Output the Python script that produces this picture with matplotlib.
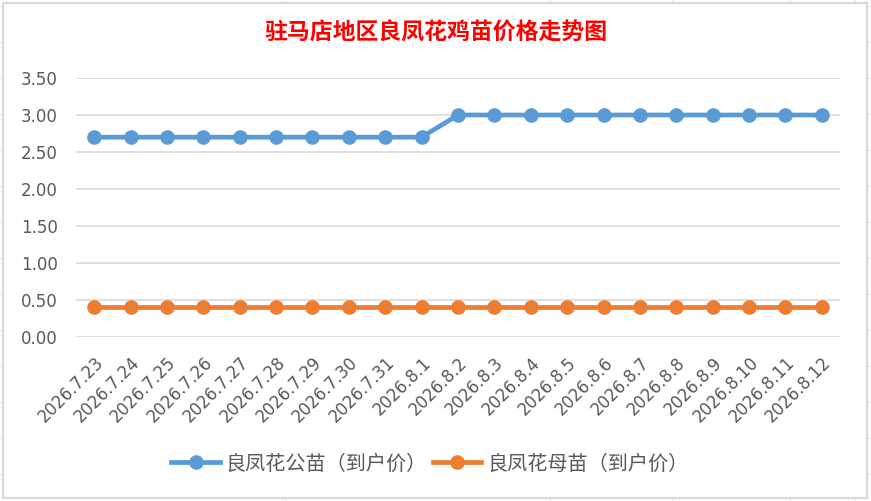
import matplotlib
matplotlib.use("Agg")
import matplotlib.pyplot as plt
from matplotlib.patches import Rectangle
from matplotlib.lines import Line2D

plt.rcParams['font.family'] = ['Noto Sans CJK SC', 'DejaVu Sans']

dates = ["2026.7.23", "2026.7.24", "2026.7.25", "2026.7.26", "2026.7.27",
         "2026.7.28", "2026.7.29", "2026.7.30", "2026.7.31", "2026.8.1",
         "2026.8.2", "2026.8.3", "2026.8.4", "2026.8.5", "2026.8.6",
         "2026.8.7", "2026.8.8", "2026.8.9", "2026.8.10", "2026.8.11",
         "2026.8.12"]
male_price = [2.7, 2.7, 2.7, 2.7, 2.7, 2.7, 2.7, 2.7, 2.7, 2.7,
              3.0, 3.0, 3.0, 3.0, 3.0, 3.0, 3.0, 3.0, 3.0, 3.0, 3.0]
female_price = [0.4] * 21
yticks = [0.0, 0.5, 1.0, 1.5, 2.0, 2.5, 3.0, 3.5]
title = "驻马店地区良凤花鸡苗价格走势图"
labels = ["良凤花公苗（到户价）", "良凤花母苗（到户价）"]

W, H = 871, 501
fig = plt.figure(figsize=(W / 100, H / 100), dpi=100)

# faint spreadsheet cells behind the chart
for y in range(6, H, 36):
    fig.add_artist(Line2D([0, 1], [1 - y / H, 1 - y / H], color="#e6e6e6", lw=0.7, zorder=0))
for x in [284.5, 550, 672, 790, 855]:
    fig.add_artist(Line2D([x / W, x / W], [0, 1], color="#e6e6e6", lw=0.7, zorder=0))
fig.add_artist(Rectangle((3 / W, 3 / H), 864 / W, 495 / H, facecolor="white",
                         edgecolor="#d9d9d9", lw=1.6, zorder=1))

ax = fig.add_axes([76 / W, 1 - 337 / H, 764 / W, 259 / H], zorder=2)
ax.patch.set_alpha(0)
x = list(range(len(dates)))
ax.plot(x, male_price, color="#5b9bd5", lw=3.4, marker="o", ms=9.5, label=labels[0], zorder=3)
ax.plot(x, female_price, color="#ed7d31", lw=3.4, marker="o", ms=9.5, label=labels[1], zorder=3)

ax.set_xlim(-0.5, len(dates) - 0.5)
ax.set_ylim(0, 3.5)
ax.set_yticks(yticks)
ax.set_yticklabels([f"{v:.2f}" for v in yticks], fontsize=12, color="#595959",
                   family="DejaVu Sans")
ax.set_xticks(x)
ax.set_xticklabels(dates, rotation=45, ha="right", rotation_mode="anchor",
                   fontsize=12, color="#595959", family="DejaVu Sans")
ax.tick_params(axis="both", length=0)
ax.tick_params(axis="x", pad=12)
ax.tick_params(axis="y", pad=13)
ax.grid(axis="y", color="#d9d9d9", lw=1.2)
ax.set_axisbelow(True)
for s in ax.spines.values():
    s.set_visible(False)

fig.text(0.5, 1 - 33 / H, title, color="red", fontsize=16.5, fontweight="bold",
         ha="center", va="center", zorder=3)

leg = fig.legend(loc="center", bbox_to_anchor=(430 / W, 1 - 464 / H), ncol=2,
                 frameon=False, fontsize=14.5, handlelength=2.4, columnspacing=0.3,
                 handletextpad=0.3, labelcolor="#595959")
leg.set_zorder(3)

fig.savefig("out.png", dpi=100)
